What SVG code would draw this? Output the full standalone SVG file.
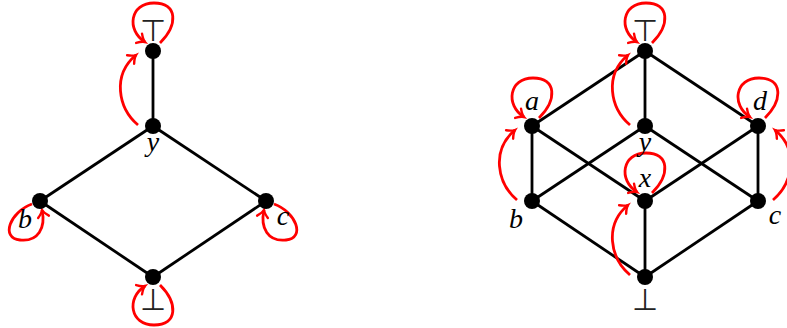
<svg xmlns="http://www.w3.org/2000/svg" width="787" height="328" viewBox="0 0 787 328">
<style>
.edge{stroke:#000;stroke-width:2.8;fill:none}
.rel{stroke:#ff0000;stroke-width:2.8;fill:none;marker-end:url(#ah)}
.dot{fill:#000}
.lbl{font-family:"Liberation Serif",serif;font-style:italic;font-size:28px;fill:#000;text-anchor:middle}
.sym{font-family:"DejaVu Sans",sans-serif;font-weight:200;font-size:30px;fill:#222;text-anchor:middle}
</style>
<defs>
<marker id="ah" markerUnits="userSpaceOnUse" markerWidth="20" markerHeight="20" refX="0" refY="0" orient="auto" viewBox="-10 -10 20 20" overflow="visible">
<path d="M -7,-5.5 Q -3,-1 0,0 Q -3,1 -7,5.5" fill="none" stroke="#ff0000" stroke-width="2.4" stroke-linecap="round"/>
</marker>
</defs>
<g id="connectors">
<g id="edges-left">
<line class="edge" x1="153" y1="51" x2="153" y2="126"/>
<line class="edge" x1="153" y1="126" x2="40" y2="201"/>
<line class="edge" x1="153" y1="126" x2="266" y2="201"/>
<line class="edge" x1="40" y1="201" x2="153" y2="277"/>
<line class="edge" x1="266" y1="201" x2="153" y2="277"/>
</g>
<g id="edges-right">
<line class="edge" x1="645" y1="51" x2="532" y2="126"/>
<line class="edge" x1="645" y1="51" x2="645" y2="126"/>
<line class="edge" x1="645" y1="51" x2="758" y2="126"/>
<line class="edge" x1="532" y1="126" x2="532" y2="201"/>
<line class="edge" x1="532" y1="126" x2="645" y2="201"/>
<line class="edge" x1="645" y1="126" x2="532" y2="201"/>
<line class="edge" x1="645" y1="126" x2="758" y2="201"/>
<line class="edge" x1="758" y1="126" x2="645" y2="201"/>
<line class="edge" x1="758" y1="126" x2="758" y2="201"/>
<line class="edge" x1="532" y1="201" x2="645" y2="277"/>
<line class="edge" x1="645" y1="201" x2="645" y2="277"/>
<line class="edge" x1="758" y1="201" x2="645" y2="277"/>
</g>
<g id="relations-left">
<path class="rel" d="M 160,43 C 178,25 178,3 154,3 C 130,3 126,30 145,42"/>
<path class="rel" d="M 138,125 C 118,108 112,75 136,55"/>
<path class="rel" d="M 32,204 C 10,212 0,238 20,240 C 38,242 46,228 42,210"/>
<path class="rel" d="M 274,204 C 296,212 306,238 286,240 C 268,242 260,228 264,210"/>
<path class="rel" d="M 160,285 C 178,303 178,325 154,325 C 130,325 126,298 145,286"/>
</g>
<g id="relations-right">
<path class="rel" d="M 652,43 C 670,25 670,3 646,3 C 622,3 618,30 637,42"/>
<path class="rel" d="M 539,118 C 557,100 557,78 533,78 C 509,78 505,105 524,117"/>
<path class="rel" d="M 765,118 C 783,100 783,78 759,78 C 735,78 731,105 750,117"/>
<path class="rel" d="M 652,193 C 670,175 670,153 646,153 C 622,153 618,180 637,192"/>
<path class="rel" d="M 630,125 C 610,108 604,75 628,55"/>
<path class="rel" d="M 517,200 C 497,183 491,150 515,130"/>
<path class="rel" d="M 630,275 C 610,258 604,225 628,205"/>
<path class="rel" d="M 773,200 C 793,183 799,150 775,130"/>
</g>
</g>
<g id="L-top"><circle class="dot" cx="153" cy="51" r="8"/><text class="sym" x="153" y="41">⊤</text></g>
<g id="L-y"><circle class="dot" cx="153" cy="126" r="8"/><text class="lbl" x="153" y="151">y</text></g>
<g id="L-b"><circle class="dot" cx="40" cy="201" r="8"/><text class="lbl" x="25" y="228">b</text></g>
<g id="L-c"><circle class="dot" cx="266" cy="201" r="8"/><text class="lbl" x="283" y="225">c</text></g>
<g id="L-bot"><circle class="dot" cx="153" cy="277" r="8"/><text class="sym" x="153" y="310">⊥</text></g>
<g id="R-top"><circle class="dot" cx="645" cy="51" r="8"/><text class="sym" x="645" y="41">⊤</text></g>
<g id="R-a"><circle class="dot" cx="532" cy="126" r="8"/><text class="lbl" x="532" y="110">a</text></g>
<g id="R-y"><circle class="dot" cx="645" cy="126" r="8"/><text class="lbl" x="645" y="151">y</text></g>
<g id="R-d"><circle class="dot" cx="758" cy="126" r="8"/><text class="lbl" x="760" y="110">d</text></g>
<g id="R-b"><circle class="dot" cx="532" cy="201" r="8"/><text class="lbl" x="516" y="228">b</text></g>
<g id="R-x"><circle class="dot" cx="645" cy="201" r="8"/><text class="lbl" x="645" y="187">x</text></g>
<g id="R-c"><circle class="dot" cx="758" cy="201" r="8"/><text class="lbl" x="775" y="224">c</text></g>
<g id="R-bot"><circle class="dot" cx="645" cy="277" r="8"/><text class="sym" x="645" y="310">⊥</text></g>
</svg>
